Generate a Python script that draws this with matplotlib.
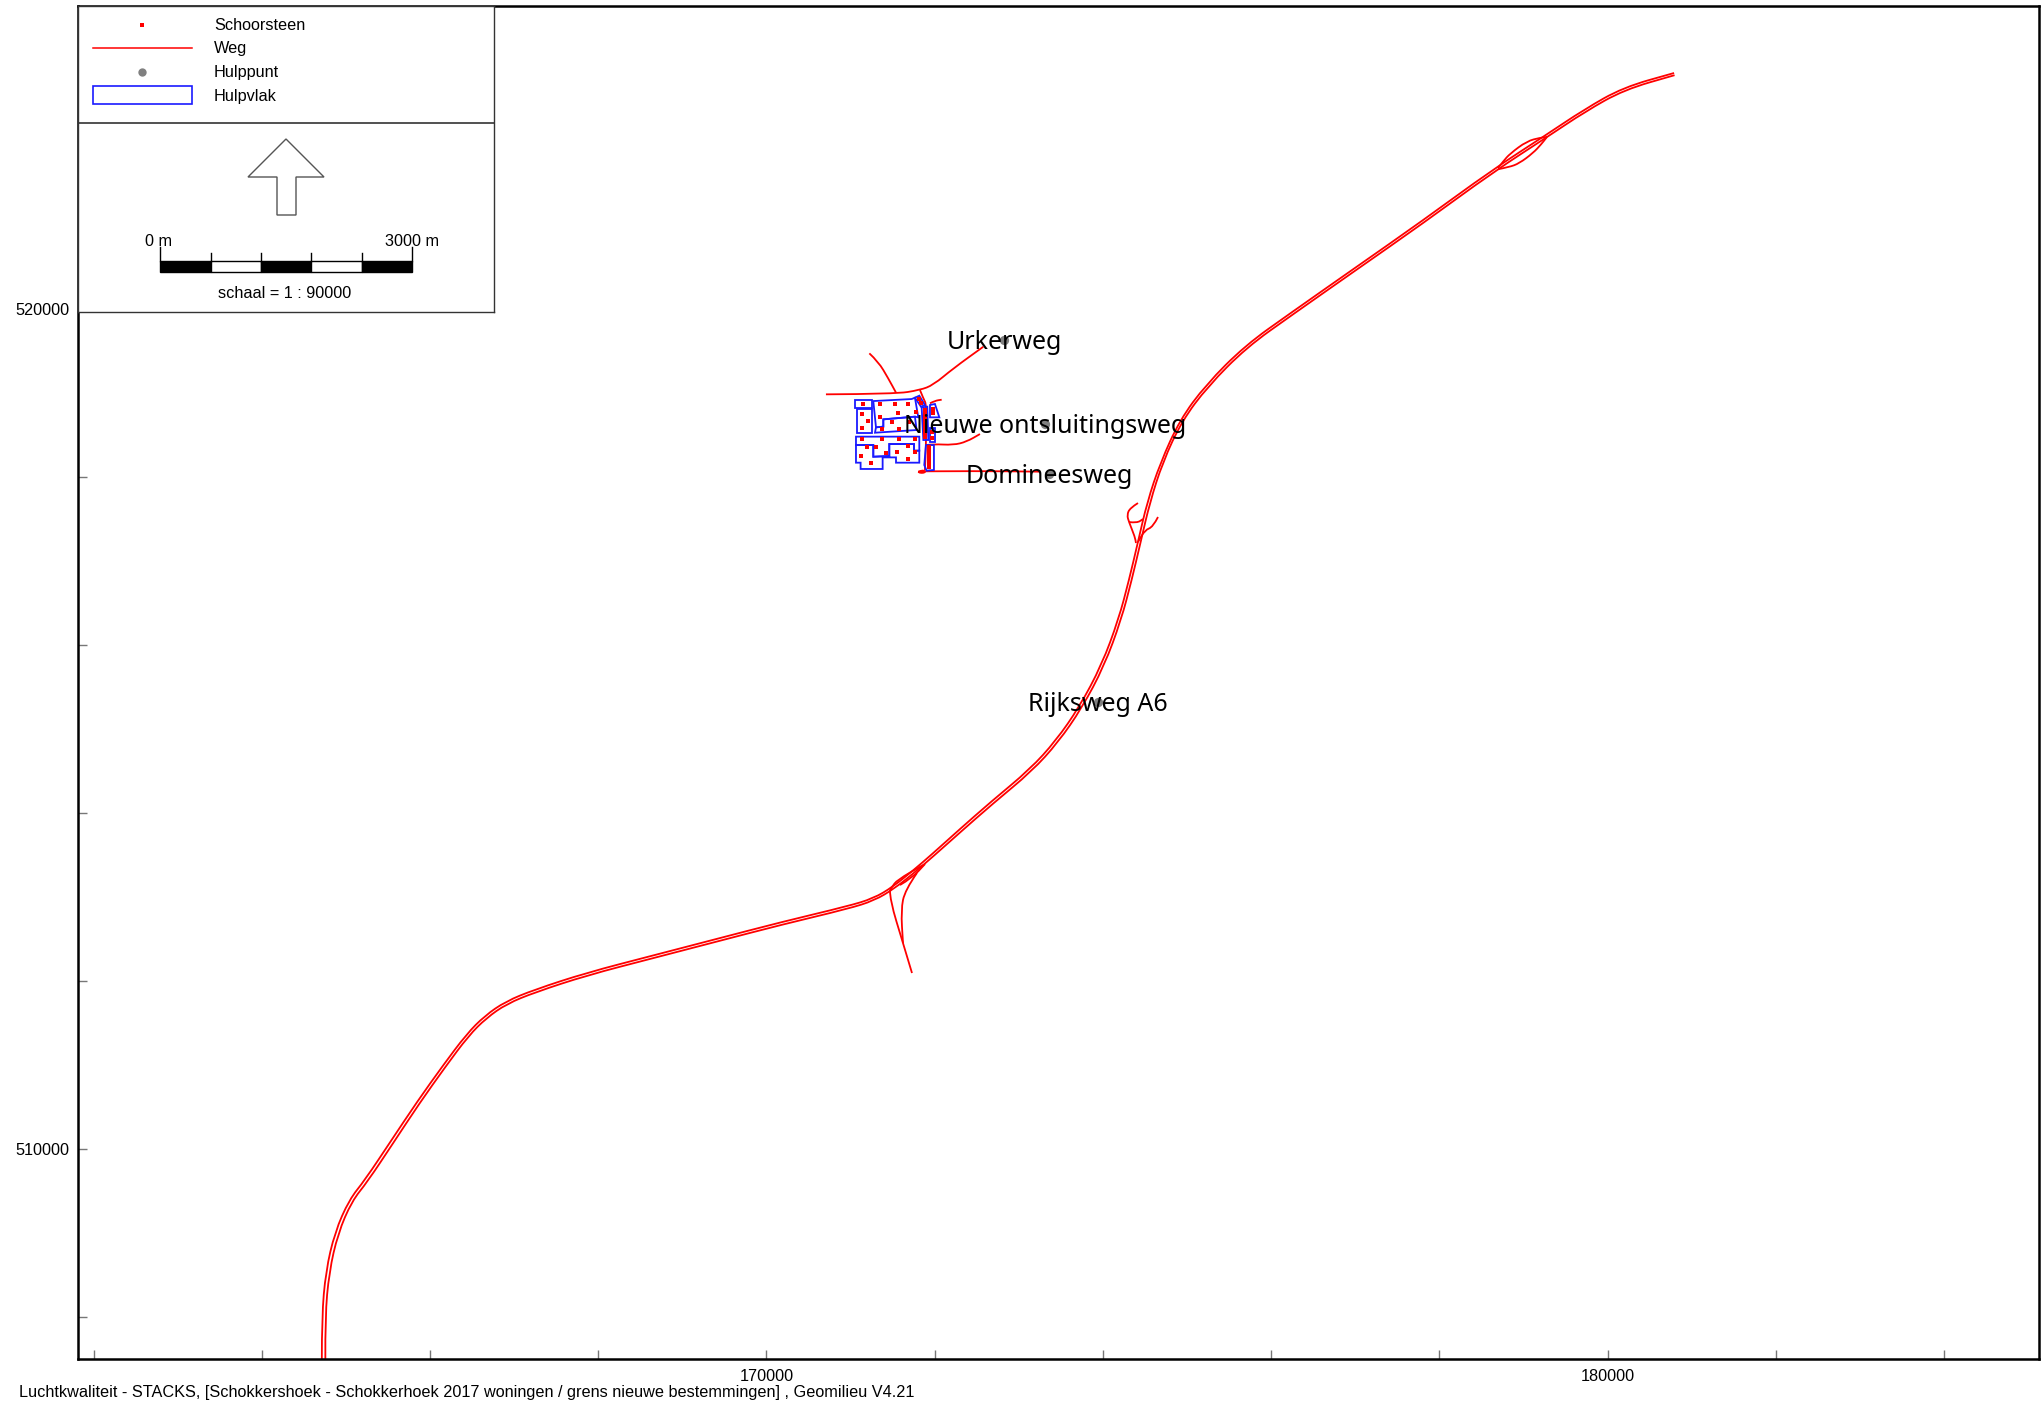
import matplotlib
matplotlib.use("Agg")
import matplotlib.pyplot as plt
from matplotlib.patches import PathPatch, Polygon, Rectangle
from matplotlib.path import Path

# RD coordinates in metres
weg_a6_x = [164713, 164713, 164760, 164868, 165039, 165225, 165535, 165845, 166155, 166434, 166651, 166899,
            167240, 167860, 168636, 169411, 170186, 170961, 171271, 171504, 171736, 171969, 172279, 172667,
            173132, 173442, 173721, 173985, 174186, 174310, 174419, 174527, 174682, 174915, 175225, 175690,
            176233, 177008, 177783, 178636, 179256, 179721, 180186, 180791]
weg_a6_y = [507495, 507995, 508539, 509005, 509393, 509626, 510092, 510558, 510993, 511365, 511583, 511754,
            511893, 512095, 512297, 512499, 512701, 512887, 512980, 513120, 513307, 513508, 513788, 514130,
            514518, 514860, 515263, 515760, 516304, 516770, 517236, 517702, 518167, 518680, 519099, 519565,
            519953, 520497, 521040, 521662, 522065, 522376, 522640, 522811]
weg_a6b_x = [164755, 164752, 164800, 164905, 165070, 165255, 165565, 165872, 166180, 166458, 166672, 166912,
             167250, 167868, 168644, 169419, 170194, 170969, 171282, 171520, 171758, 171990, 172300, 172690,
             173155, 173468, 173750, 174015, 174216, 174340, 174450, 174558, 174712, 174940, 175247, 175708,
             176250, 177024, 177800, 178652, 179272, 179735, 180198, 180797]
weg_a6b_y = [507495, 507995, 508530, 508990, 509375, 509605, 510072, 510538, 510972, 511345, 511558, 511725,
             511863, 512065, 512267, 512469, 512671, 512857, 512955, 513098, 513287, 513488, 513765, 514108,
             514495, 514840, 515248, 515748, 516295, 516762, 517230, 517695, 518178, 518668, 519078, 519543,
             519930, 520474, 521017, 521639, 522042, 522352, 522612, 522785]

# ramps, (x list, y list)
opritten = [
    ([178698, 178760, 178840, 179042, 179200, 179280], [521679, 521760, 521850, 522000, 522040, 522049]),
    ([178698, 178830, 178950, 179114, 179210, 179280], [521665, 521690, 521735, 521858, 521960, 522049]),
    ([171468, 171468, 171623, 171730], [513080, 512961, 512449, 512092]),
    ([171789, 171647, 171599, 171623], [513283, 513080, 512842, 512449]),
    ([171468, 171492, 171552, 171861], [513080, 513116, 513199, 513378]),
    ([171587, 171730, 171885], [513140, 513223, 513390]),
    ([174417, 174322, 174286, 174310, 174381, 174393], [517689, 517630, 517547, 517463, 517285, 517213]),
    ([174310, 174405, 174477], [517463, 517451, 517499]),
    ([174655, 174595, 174500, 174417], [517523, 517404, 517368, 517225]),
]

# local roads
lokale_wegen = [
    ([170707, 171528, 171825, 171983, 172221, 172578], [518984, 518988, 519035, 519095, 519293, 519551]),
    ([171223, 171330, 171448, 171540], [519472, 519373, 519174, 519004]),
    ([171825, 171865, 171904, 171896, 171884], [519035, 518936, 518857, 518380, 518083]),
    ([171825, 172538, 173252], [518067, 518071, 518063]),
    ([171896, 171983, 172221, 172380, 172538], [518380, 518392, 518380, 518420, 518511]),
    ([171944, 172003, 172083], [518877, 518908, 518920]),
    ([171805, 171845, 171884, 171884, 171825, 171805], [518063, 518079, 518071, 518051, 518047, 518063]),
]

# Hulpvlak outlines
hulpvlakken = [
    ([171053, 171250, 171250, 171053], [518912, 518912, 518825, 518825]),
    ([171072, 171250, 171250, 171072], [518805, 518805, 518519, 518519]),
    ([171270, 171726, 171765, 171805, 171765, 171389, 171389, 171302],
     [518904, 518928, 518944, 518710, 518718, 518686, 518599, 518591]),
    ([171302, 171389, 171389, 171765, 171785, 171290], [518591, 518599, 518686, 518718, 518559, 518527]),
    ([171064, 171817, 171817, 171754, 171754, 171460, 171460, 171270, 171270, 171064],
     [518480, 518480, 518313, 518313, 518392, 518392, 518249, 518241, 518380, 518380]),
    ([171064, 171270, 171270, 171460, 171460, 171754, 171754, 171817, 171817, 171540, 171540, 171381, 171381,
      171119, 171119, 171064],
     [518380, 518380, 518241, 518249, 518392, 518392, 518313, 518313, 518170, 518170, 518233, 518233, 518095,
      518095, 518170, 518170]),
    ([171765, 171817, 171884, 171837], [518944, 518968, 518857, 518837]),
    ([171845, 171912, 171924, 171865], [518829, 518837, 518440, 518440]),
    ([171944, 172003, 172055, 171944], [518857, 518869, 518710, 518710]),
    ([171944, 172003, 172003, 171944], [518579, 518579, 518412, 518412]),
    ([171896, 171991, 171991, 171904, 171876], [518380, 518380, 518083, 518075, 518142]),
]

# Schoorsteen points
schoorsteen_x = [171143, 171131, 171211, 171131, 171353, 171528, 171686, 171559, 171781, 171353, 171488, 171373,
                 171579, 171698, 171131, 171373, 171571, 171769, 171191, 171306, 171686, 171417, 171547, 171769,
                 171123, 171238, 171678, 171884, 171884, 171884, 171884, 171884, 171884, 171884, 171884, 171817,
                 171837, 171976, 171976, 171972, 171972, 171932, 171932, 171932, 171932, 171932, 171932, 171932]
schoorsteen_y = [518873, 518750, 518670, 518587, 518865, 518865, 518865, 518757, 518773, 518710, 518658, 518567,
                 518575, 518658, 518452, 518452, 518452, 518452, 518353, 518360, 518368, 518289, 518297, 518293,
                 518245, 518162, 518218, 518797, 518750, 518702, 518654, 518607, 518559, 518511, 518472, 518925,
                 518885, 518805, 518757, 518539, 518460, 518360, 518321, 518281, 518241, 518202, 518162, 518122]

# Hulppunt with label
labels = ["Urkerweg", "Nieuwe ontsluitingsweg", "Domineesweg", "Rijksweg A6"]
hulppunt_x = [172828, 173311, 173359, 173938]
hulppunt_y = [519631, 518630, 518035, 515325]

x_ticks = list(range(162000, 186000, 2000))
y_ticks = list(range(508000, 524000, 2000))
x_labelled = [170000, 180000]
y_labelled = [510000, 520000]

legend_items = ["Schoorsteen", "Weg", "Hulppunt", "Hulpvlak"]
footer = "Luchtkwaliteit - STACKS, [Schokkershoek - Schokkerhoek 2017 woningen / grens nieuwe bestemmingen] , Geomilieu V4.21"

W, H = 2044, 1407
ROOD = "#ff0000"
BLAUW = "#1a1aff"
GRIJS = "#808080"
FS = 11.7

plt.rcParams["font.family"] = ["Liberation Sans", "DejaVu Sans"]


def draw_road(ax, xs, ys, lw=1.3):
    """road through the read points, corners rounded with quadratic segments"""
    verts = [(xs[0], ys[0])]
    codes = [Path.MOVETO]
    for i in range(1, len(xs) - 1):
        verts.append((xs[i], ys[i]))
        verts.append(((xs[i] + xs[i + 1]) / 2, (ys[i] + ys[i + 1]) / 2))
        codes += [Path.CURVE3, Path.CURVE3]
    verts.append((xs[-1], ys[-1]))
    codes.append(Path.LINETO)
    ax.add_patch(PathPatch(Path(verts, codes), fill=False, edgecolor=ROOD, lw=lw))


fig = plt.figure(figsize=(W / 100, H / 100), dpi=100, facecolor="white")
ax = fig.add_axes([78 / W, 1 - 1359 / H, (2039 - 78) / W, (1359 - 6) / H])
ax.set_xlim(161814, 185130)
ax.set_ylim(507495, 523609)

for xs, ys in [(weg_a6_x, weg_a6_y), (weg_a6b_x, weg_a6b_y)] + opritten + lokale_wegen:
    draw_road(ax, xs, ys)

for xs, ys in hulpvlakken:
    ax.add_patch(Polygon(list(zip(xs, ys)), closed=True, fill=False, edgecolor=BLAUW, lw=1.3))

ax.scatter(schoorsteen_x, schoorsteen_y, s=9, marker="s", color=ROOD, linewidths=0, zorder=3)
ax.scatter(hulppunt_x, hulppunt_y, s=45, color=GRIJS, linewidths=0, zorder=3)

for name, x, y in zip(labels, hulppunt_x, hulppunt_y):
    ax.annotate(name, (x, y), xytext=(0, -2), textcoords="offset points", fontsize=18, family="Noto Sans",
                ha="center", va="center", zorder=4)

ax.set_xticks(x_ticks)
ax.set_yticks(y_ticks)
ax.set_xticklabels([str(t) if t in x_labelled else "" for t in x_ticks])
ax.set_yticklabels([str(t) if t in y_labelled else "" for t in y_ticks])
ax.tick_params(direction="in", length=6.5, width=1.0, color="#777777", labelsize=FS)
ax.tick_params(axis="x", pad=7)
ax.tick_params(axis="y", pad=6)
for s in ax.spines.values():
    s.set_linewidth(1.8)

# legend panel, laid out in pixels
leg = fig.add_axes([78 / W, 1 - 312 / H, 416 / W, 306 / H], zorder=5)
leg.set_xlim(78, 494)
leg.set_ylim(312, 6)
leg.set_xticks([])
leg.set_yticks([])
for s in leg.spines.values():
    s.set_linewidth(1.0)
    s.set_color("#333333")
leg.axhline(123, color="#333333", lw=1.2)

leg.plot([142], [25], "s", color=ROOD, ms=2.6, mew=0)
leg.plot([93, 192], [48, 48], color=ROOD, lw=1.1)
leg.plot([142], [72], "o", color=GRIJS, ms=6, mew=0)
leg.add_patch(Rectangle((93, 86), 99, 18, fill=False, edgecolor=BLAUW, lw=1.2))
for name, y in zip(legend_items, [26, 49, 72, 96]):
    leg.text(214, y, name, fontsize=FS, ha="left", va="center")

# north arrow
leg.add_patch(Polygon([(286, 139), (324, 177), (296, 177), (296, 215), (277, 215), (277, 177), (248, 177)],
                      closed=True, facecolor="white", edgecolor="#555555", lw=1.0))

# scale bar
bar_edges = [160, 210.5, 261, 311, 362, 412]
for i in range(5):
    kleur = "black" if i % 2 == 0 else "white"
    leg.add_patch(Rectangle((bar_edges[i], 261), bar_edges[i + 1] - bar_edges[i], 11,
                            facecolor=kleur, edgecolor="black", lw=1.0))
for i, bx in enumerate(bar_edges):
    leg.plot([bx, bx], [247 if i in (0, 5) else 253, 261], color="black", lw=1.0)
leg.text(159, 241, "0 m", fontsize=FS, ha="center", va="center")
leg.text(412, 241, "3000 m", fontsize=FS, ha="center", va="center")
leg.text(285, 294, "schaal = 1 : 90000", fontsize=FS, ha="center", va="center")

fig.text(19 / W, 1 - 1392 / H, footer, fontsize=FS, ha="left", va="center")

fig.savefig("out.png", dpi=100)
